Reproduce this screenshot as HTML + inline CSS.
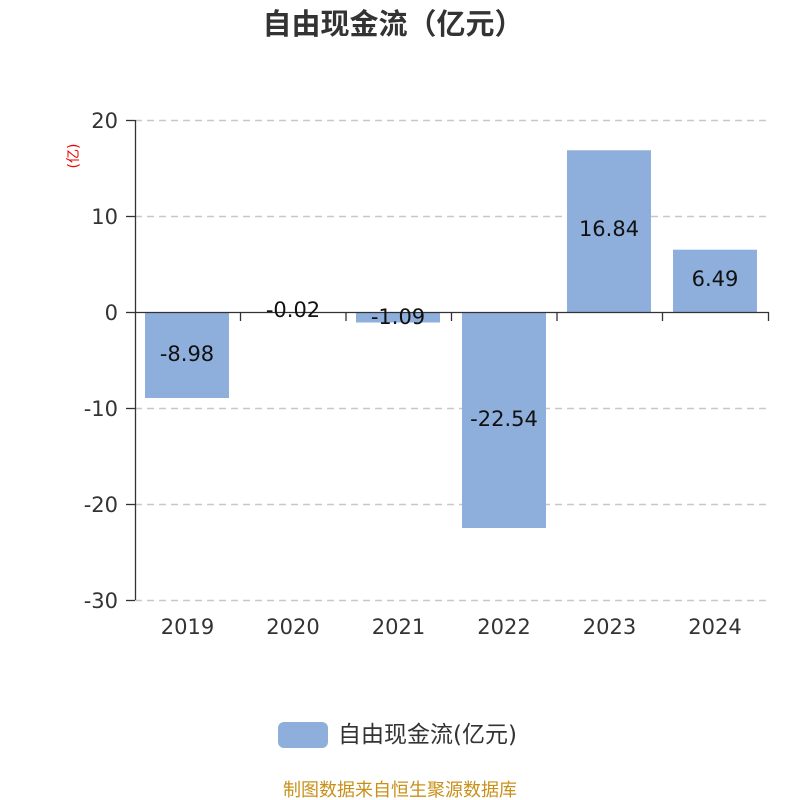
<!DOCTYPE html>
<html><head><meta charset="utf-8"><style>
html,body{margin:0;padding:0;background:#fff;}
svg{display:block;font-family:"DejaVu Sans","Noto Sans CJK SC",sans-serif;}
</style></head><body>
<svg width="800" height="800" viewBox="0 0 800 800">
<text x="393" y="34" text-anchor="middle" font-size="29" font-weight="bold" fill="#333" font-family="'Noto Sans CJK SC',sans-serif">自由现金流（亿元）</text>
<text transform="translate(78,156) rotate(-90)" text-anchor="middle" font-size="14" fill="#e00">(亿)</text>
<g stroke="#c8c8c8" stroke-width="1.5" stroke-dasharray="7,5">
<line x1="135" y1="120.5" x2="768" y2="120.5"/>
<line x1="135" y1="216.5" x2="768" y2="216.5"/>
<line x1="135" y1="408.5" x2="768" y2="408.5"/>
<line x1="135" y1="504.5" x2="768" y2="504.5"/>
<line x1="135" y1="600.5" x2="768" y2="600.5"/>
</g>
<g fill="#8eaedb">
<rect x="145" y="312" width="84" height="86"/>
<rect x="250" y="312" width="84" height="1"/>
<rect x="356" y="312" width="84" height="10.5"/>
<rect x="462" y="312" width="84" height="216"/>
<rect x="567" y="150.3" width="84" height="161.7"/>
<rect x="673" y="249.7" width="84" height="62.3"/>
</g>
<g stroke="#333" stroke-width="1.3">
<line x1="135.5" y1="120" x2="135.5" y2="600"/>
<line x1="126" y1="120.5" x2="135" y2="120.5"/>
<line x1="126" y1="216.5" x2="135" y2="216.5"/>
<line x1="126" y1="312.5" x2="135" y2="312.5"/>
<line x1="126" y1="408.5" x2="135" y2="408.5"/>
<line x1="126" y1="504.5" x2="135" y2="504.5"/>
<line x1="126" y1="600.5" x2="135" y2="600.5"/>
<line x1="135" y1="312.5" x2="769" y2="312.5"/>
<line x1="240.5" y1="312" x2="240.5" y2="321"/>
<line x1="346" y1="312" x2="346" y2="321"/>
<line x1="451.5" y1="312" x2="451.5" y2="321"/>
<line x1="557" y1="312" x2="557" y2="321"/>
<line x1="662.5" y1="312" x2="662.5" y2="321"/>
<line x1="768.5" y1="312" x2="768.5" y2="321"/>
</g>
<g font-size="21" fill="#333" text-anchor="end">
<text x="118" y="128">20</text>
<text x="118" y="224">10</text>
<text x="118" y="320">0</text>
<text x="118" y="416">-10</text>
<text x="118" y="512">-20</text>
<text x="118" y="608">-30</text>
</g>
<g font-size="21" fill="#333" text-anchor="middle">
<text x="187.5" y="634">2019</text>
<text x="293" y="634">2020</text>
<text x="398.5" y="634">2021</text>
<text x="504" y="634">2022</text>
<text x="609.5" y="634">2023</text>
<text x="715" y="634">2024</text>
</g>
<g font-size="21" fill="#111" text-anchor="middle">
<text x="187" y="361">-8.98</text>
<text x="293" y="317">-0.02</text>
<text x="398" y="324">-1.09</text>
<text x="504" y="426">-22.54</text>
<text x="609" y="236">16.84</text>
<text x="715" y="286">6.49</text>
</g>
<rect x="278" y="722" width="50" height="26" rx="6" fill="#8eaedb"/>
<text x="338" y="742" font-size="23" fill="#333">自由现金流(亿元)</text>
<text x="400" y="796" text-anchor="middle" font-size="18" fill="#c8901a">制图数据来自恒生聚源数据库</text>
</svg>
</body></html>
